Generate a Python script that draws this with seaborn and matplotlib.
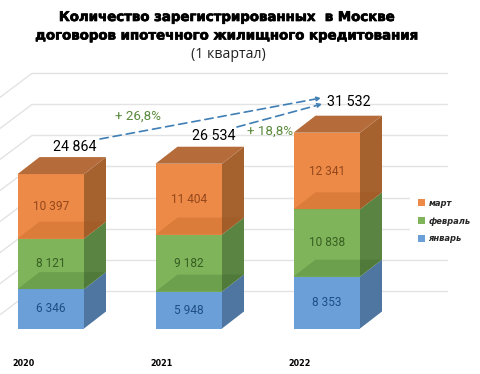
import matplotlib
matplotlib.use('Agg')
import matplotlib.pyplot as plt
import matplotlib.patheffects as pe
from matplotlib.patches import Patch, Polygon
import seaborn as sns

# Данные (1 квартал)
years = ['2020', '2021', '2022']
jan = [6346, 5948, 8353]
feb = [8121, 9182, 10838]
mar = [10397, 11404, 12341]
months = ['март', 'февраль', 'январь']
grid_levels = [5000, 10000, 15000, 20000, 25000, 30000, 35000, 40000]

C_JAN = ['#6a9fd8', '#4f76a0', '#1f4e85']   # фронт, бок, подпись
C_FEB = ['#7fb45a', '#5a8442', '#375f22']
C_MAR = ['#ee8a48', '#a5622f', '#93471a']
C_TOP = '#b56c3a'

W, H = 480, 374
PX_PER_UNIT = 0.00621   # пикселей на один договор
STEP = 138              # пикселей между столбцами
X0, Y0 = 50.75, 328.5   # центр первого столбца и линия основания
DX = 22 / STEP          # глубина "3D" по x
DY = 17 / PX_PER_UNIT   # глубина "3D" по y
BAR_W = 66.5 / STEP
WALL = 1087             # задняя стенка поднята над основанием


def px(x, y):
    return x / W, 1 - y / H


def fmt(v):
    return f'{v:,}'.replace(',', ' ')


sns.set_theme(style='white')
plt.rcParams['font.family'] = ['Roboto', 'DejaVu Sans']

fig = plt.figure(figsize=(W / 100, H / 100), dpi=100)
ax = fig.add_axes([0, 0, 1, 1])

# Столбцы: накопленные суммы, от большей к меньшей
cum_feb = [a + b for a, b in zip(jan, feb)]
cum_mar = [a + b for a, b in zip(cum_feb, mar)]
for vals, col in [(cum_mar, C_MAR[0]), (cum_feb, C_FEB[0]), (jan, C_JAN[0])]:
    sns.barplot(x=years, y=vals, color=col, saturation=1, width=BAR_W, ax=ax, zorder=2, linewidth=0)

ax.set_xlim(-X0 / STEP, (W - X0) / STEP)
ax.set_ylim((Y0 - H) / PX_PER_UNIT, Y0 / PX_PER_UNIT)
ax.axis('off')

# Сетка на задней стенке и линии на левой стенке
wall_x = ax.get_xlim()[0] + 32 / STEP
right_x = ax.get_xlim()[0] + 447 / STEP
left_x = ax.get_xlim()[0]
for lev in grid_levels:
    ax.plot([wall_x, right_x], [lev + WALL, lev + WALL], color='#e3e3e3', lw=1, zorder=0)
    ax.plot([left_x, wall_x], [lev + WALL - 24 / PX_PER_UNIT, lev + WALL], color='#e3e3e3', lw=1, zorder=0)

# Боковые и верхние грани
for i in range(len(years)):
    x1 = i + BAR_W / 2
    x0 = i - BAR_W / 2
    levels = [0, jan[i], cum_feb[i], cum_mar[i]]
    for j, col in enumerate([C_JAN, C_FEB, C_MAR]):
        lo, hi = levels[j], levels[j + 1]
        ax.add_patch(Polygon([(x1, lo), (x1 + DX, lo + DY), (x1 + DX, hi + DY), (x1, hi)],
                             closed=True, fc=col[1], ec='none', zorder=3))
        ax.text(i, (lo + hi) / 2, fmt(hi - lo), color=col[2], fontsize=8.6,
                ha='center', va='center', zorder=6)
    # просвечивающая верхняя грань нижнего сегмента
    for lev, col in [(jan[i], '#2f5a20'), (cum_feb[i], '#9a4d10')]:
        ax.add_patch(Polygon([(x0, lev), (x1, lev), (x1 + DX, lev + DY), (x0 + DX, lev + DY)],
                             closed=True, fc=col, ec='none', alpha=0.22, zorder=4))
    top = cum_mar[i]
    ax.add_patch(Polygon([(x0, top), (x1, top), (x1 + DX, top + DY), (x0 + DX, top + DY)],
                         closed=True, fc=C_TOP, ec='none', zorder=4))

# Годы
for i, y in enumerate(years):
    ax.text(i - 27.5 / STEP, ax.get_ylim()[0] + 11 / PX_PER_UNIT, y, fontsize=5.8, fontweight='bold',
            family='DejaVu Sans', color='black', ha='center', va='center')

# Итоги
for xy, i in [((75, 147), 0), ((213.5, 136), 1), ((349, 102.5), 2)]:
    ax.text(*px(*xy), fmt(cum_mar[i]), transform=ax.transAxes, fontsize=10.3,
            color='black', ha='center', va='center', zorder=7)

# Стрелки роста
for a, b in [((100, 139), (321, 98)), ((237, 127), (322, 104))]:
    ax.annotate('', xy=px(*b), xytext=px(*a), xycoords='axes fraction', textcoords='axes fraction',
                arrowprops=dict(arrowstyle='->', color='#3f7fb5', lw=1.2, ls=(0, (5, 3)),
                                shrinkA=0, shrinkB=0, mutation_scale=6), zorder=7)
ax.text(*px(138, 116), '+ 26,8%', transform=ax.transAxes, fontsize=9.6, color='#5a8a3c',
        ha='center', va='center', zorder=7)
ax.text(*px(270, 131), '+ 18,8%', transform=ax.transAxes, fontsize=9.6, color='#5a8a3c',
        ha='center', va='center', zorder=7)

# Заголовок
heavy = [pe.withStroke(linewidth=0.5, foreground='black')]
ax.text(*px(228, 17.5), 'Количество зарегистрированных  в Москве', transform=ax.transAxes,
        family='DejaVu Sans', fontweight='bold', fontsize=9.6, color='black', ha='center', va='center',
        path_effects=heavy)
ax.text(*px(228, 36), 'договоров ипотечного жилищного кредитования', transform=ax.transAxes,
        family='DejaVu Sans', fontweight='bold', fontsize=9.6, color='black', ha='center', va='center',
        path_effects=heavy)
ax.text(*px(228, 55), '(1 квартал)', transform=ax.transAxes, family='Open Sans', fontsize=10.2,
        color='#222222', ha='center', va='center')

# Легенда
handles = [Patch(fc=c, ec='none', label=m) for c, m in zip([C_MAR[0], C_FEB[0], C_JAN[0]], months)]
leg = ax.legend(handles=handles, loc='center left', bbox_to_anchor=px(410, 221), frameon=True,
                facecolor='white', edgecolor='none', framealpha=1, fontsize=6,
                handlelength=0.95, handleheight=0.95, handletextpad=0.35, labelspacing=1.05,
                borderpad=0.9, borderaxespad=0)
leg.set_zorder(1)
for t in leg.get_texts():
    t.set_fontfamily('DejaVu Sans')
    t.set_fontstyle('italic')
    t.set_fontweight('bold')

fig.savefig('out.png', dpi=100)
